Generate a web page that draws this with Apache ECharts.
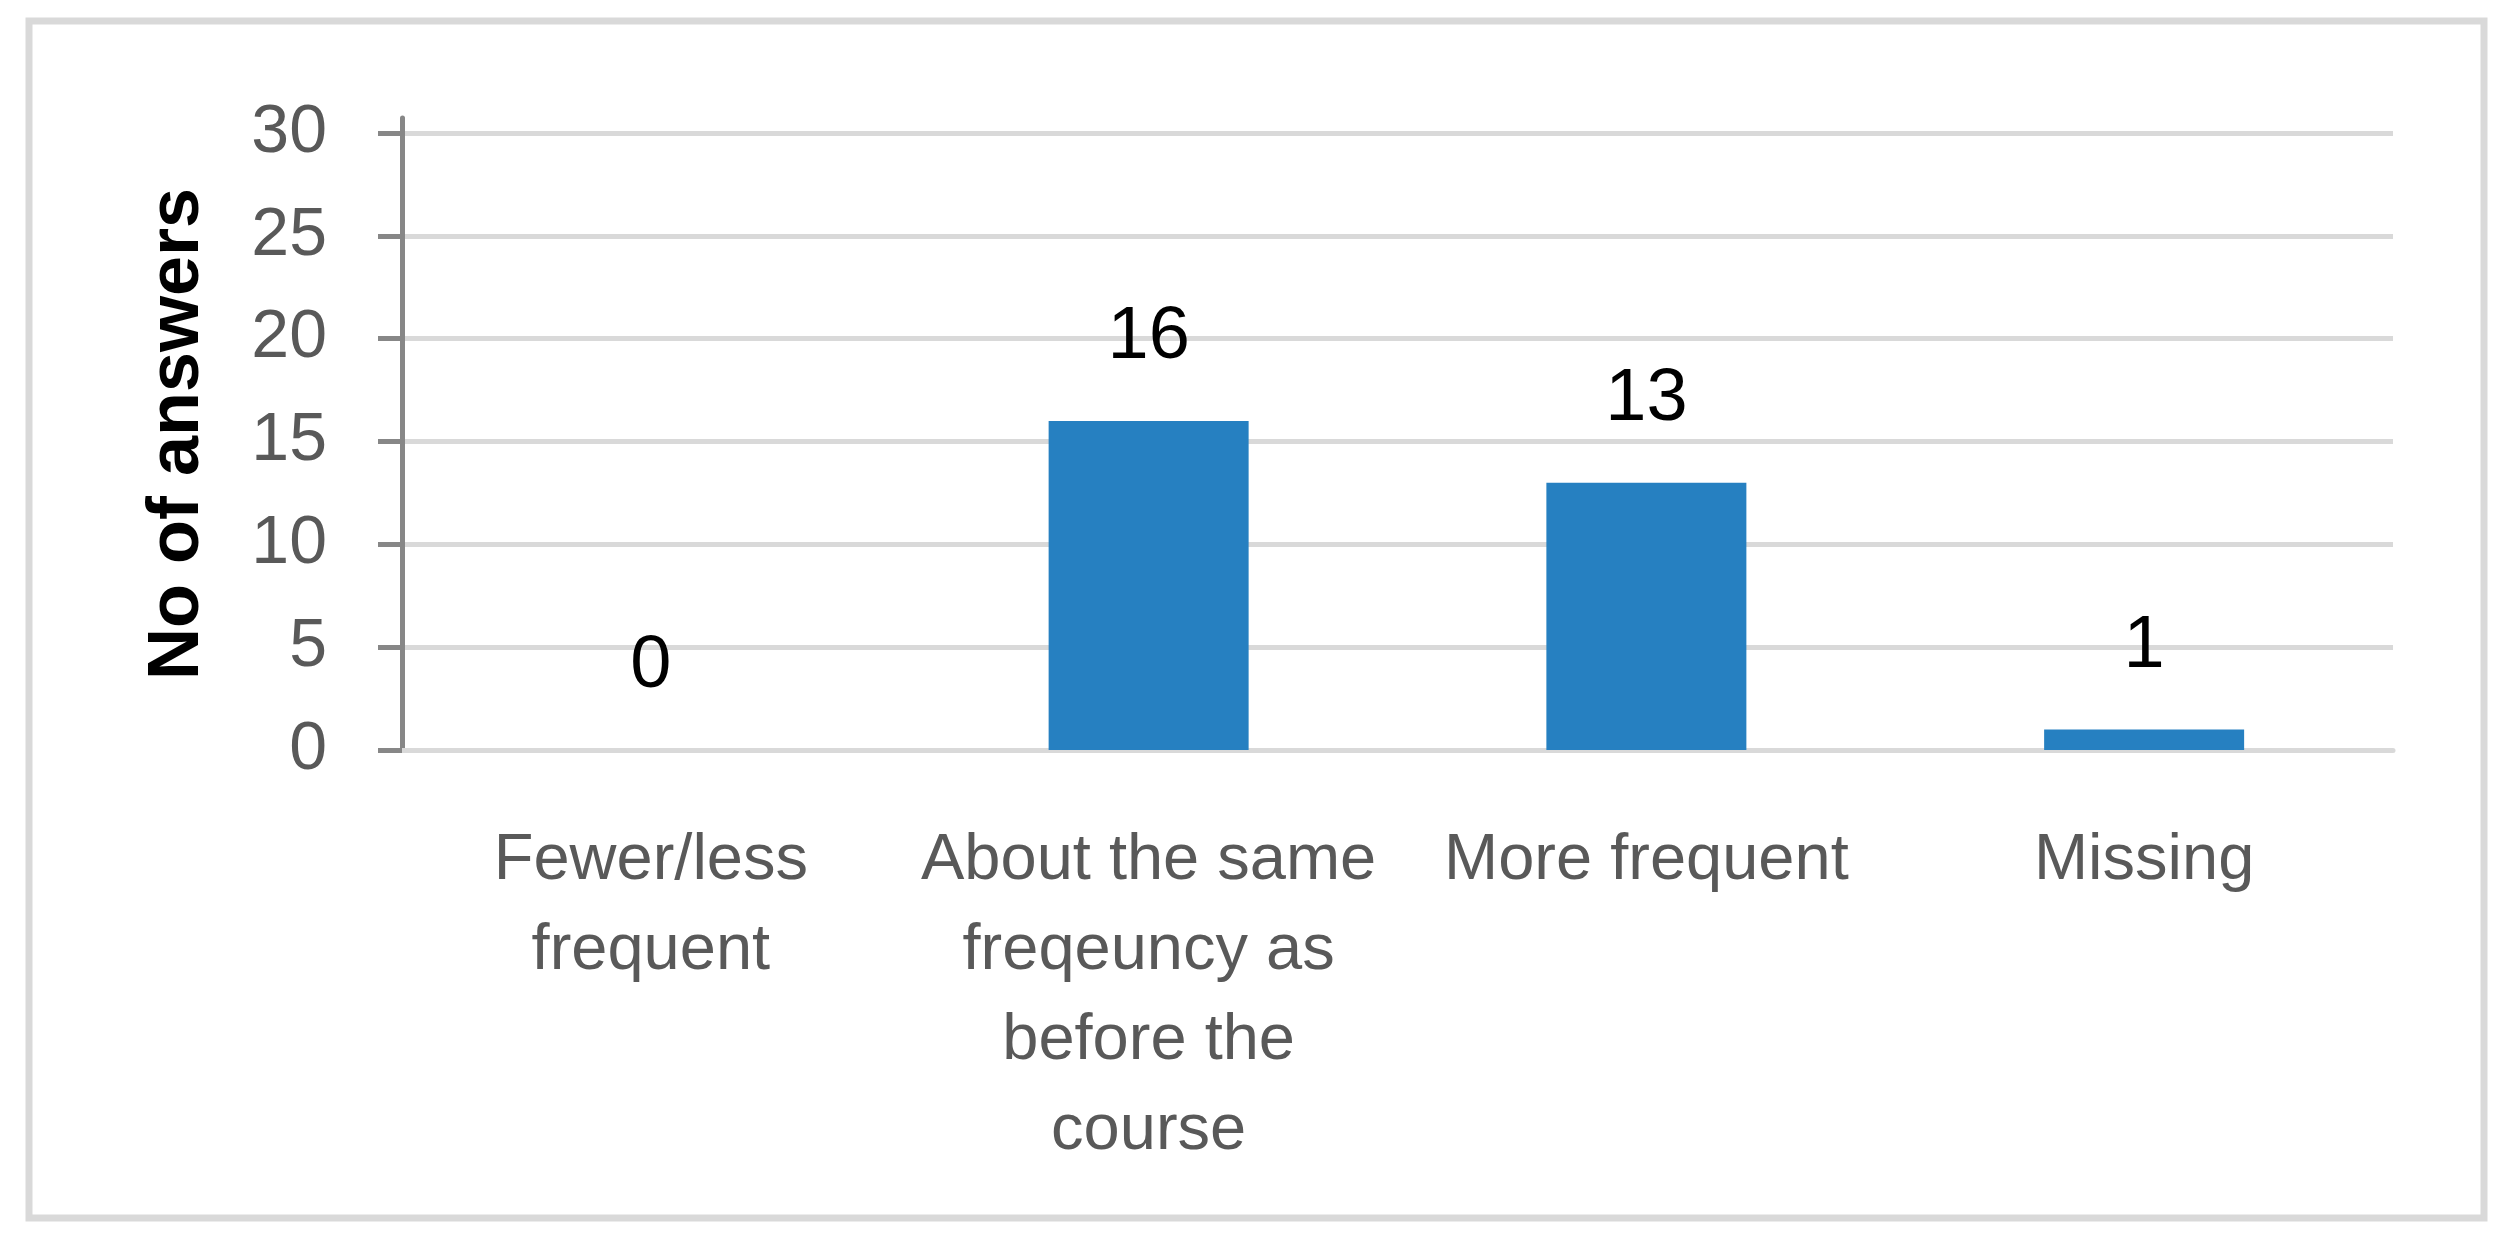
<!DOCTYPE html>
<html>
<head>
<meta charset="utf-8">
<script src="https://cdn.jsdelivr.net/npm/echarts@6/dist/echarts.min.js"></script>
<style>
html,body{margin:0;padding:0;background:#fff;}
#chart{width:2513px;height:1242px;}
</style>
</head>
<body>
<div id="chart"></div>
<script>
const categories = [
  "Fewer/less\nfrequent",
  "About the same\nfreqeuncy as\nbefore the\ncourse",
  "More frequent",
  "Missing"
];
const answers = [0, 16, 13, 1];
const yTickValues = [0, 5, 10, 15, 20, 25, 30];
const yTitle = "No of answers";

const chart = echarts.init(document.getElementById('chart'), null, {renderer: 'canvas'});
chart.setOption({
  animation: false,
  backgroundColor: '#ffffff',
  graphic: [{
    type: 'rect',
    shape: {x: 29, y: 21, width: 2455, height: 1197},
    style: {fill: 'none', stroke: '#d9d9d9', lineWidth: 7},
    silent: true
  }],
  grid: {left: 402, top: 118, right: 120, bottom: 492, containLabel: false},
  xAxis: {
    type: 'category',
    data: categories,
    axisLine: {show: true, lineStyle: {color: '#d9d9d9', width: 5}},
    axisTick: {show: false},
    axisLabel: {
      interval: 0,
      margin: 66,
      fontFamily: 'Liberation Sans',
      fontSize: 65,
      lineHeight: 90,
      color: '#595959'
    }
  },
  yAxis: {
    type: 'value',
    min: 0,
    max: 30.73,
    interval: 5,
    name: yTitle,
    nameLocation: 'middle',
    nameRotate: 90,
    nameGap: 188,
    nameTextStyle: {fontFamily: 'Liberation Sans', fontSize: 72, fontWeight: 'bold', color: '#000'},
    axisLine: {show: true, lineStyle: {color: '#878787', width: 5}},
    axisTick: {show: true, inside: false, length: 24, customValues: yTickValues, lineStyle: {color: '#878787', width: 5}},
    axisLabel: {margin: 75, customValues: yTickValues, fontFamily: 'Liberation Sans', fontSize: 68, color: '#595959'},
    splitLine: {show: true, lineStyle: {color: '#d9d9d9', width: 5}}
  },
  series: [{
    type: 'bar',
    data: answers,
    barWidth: 200,
    itemStyle: {color: '#2680c1'},
    label: {
      show: true,
      position: 'top',
      distance: 46,
      fontFamily: 'Liberation Sans',
      fontSize: 74,
      color: '#000'
    }
  }]
});
</script>
</body>
</html>
